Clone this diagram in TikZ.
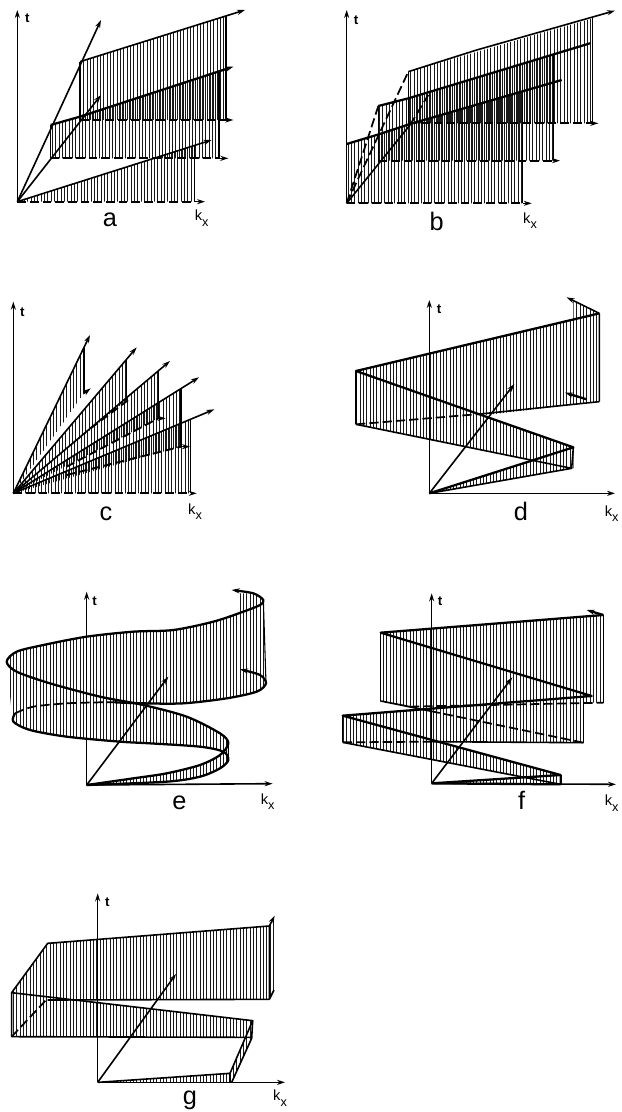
\documentclass[tikz,border=0pt]{standalone}
\usepackage{fontspec}
\setmainfont{Liberation Sans}
\usetikzlibrary{arrows.meta}
\tikzset{
  thinline/.style={line width=0.8pt,line join=round},
  bandline/.style={line width=1.2pt,line join=round},
  heavyline/.style={line width=1.7pt,line join=round},
  dashline/.style={line width=1.3pt,dash pattern=on 7pt off 3pt},
  combline/.style={line width=1.4pt,dash pattern=on 6.5pt off 3pt},
  arr/.style={-{Stealth[length=6pt,width=3.8pt]}},
  hatchline/.style={line width=0.72pt,black!90},
  tlab/.style={font=\fontsize{10}{10}\selectfont\bfseries,inner sep=0pt},
  klab/.style={font=\fontsize{11}{11}\selectfont,inner sep=0pt},
  letter/.style={font=\fontsize{19}{19}\selectfont,inner sep=0pt},
  panel/.style={x=0.25pt,y=-0.25pt}
}
\newcount\bandno
\def\bandstep{1}
\newcommand{\hatchband}[1]{%
  \global\advance\bandno by \bandstep\relax
  \pgfmathsetmacro{\hoff}{mod(\the\bandno*3.7,10)}%
  \begin{scope}
    \clip #1;
    \foreach \i in {0,...,95}{\draw[hatchline] ({\i*10+\hoff},0) -- ({\i*10+\hoff},820);}
  \end{scope}}
\newcommand{\klabel}{k\raisebox{-4pt}{\fontsize{9.5}{9.5}\selectfont x}}
\begin{document}
\begin{tikzpicture}[x=0.75pt,y=-0.75pt]
\useasboundingbox (0,0) rectangle (621,1112);

% ---------- a
\begin{scope}[panel]
\coordinate (aO) at (52,605);
\hatchband{(52,605) -- (583,436) -- (583,605) -- cycle}
\hatchband{(152,375) -- (657,214) -- (657,475) -- (152,475) -- cycle}
\hatchband{(240,185) -- (678,48) -- (678,360) -- (240,360) -- cycle}
\coordinate (a1) at (303,60); \coordinate (a2) at (303,285); \coordinate (a3) at (635,420);
\draw[thinline,arr] (aO) -- (52,30);
\draw[combline] (aO) -- (583,605);
\draw[thinline,arr] (583,605) -- (615,605);
\draw[bandline,arr] (aO) -- (a1);
\draw[bandline,arr] (aO) -- (a2);
\draw[bandline,arr] (aO) -- (a3);
\draw[bandline,arr] (240,185) -- (735,30);
\draw[heavyline,arr] (152,375) -- (240,350) -- (700,200);
\draw[combline] (240,360) -- (678,360);
\draw[thinline,arr] (678,360) -- (700,360);
\draw[combline] (152,475) -- (657,475);
\draw[thinline,arr] (657,475) -- (685,475);
\draw[bandline] (240,185) -- (240,360) (152,375) -- (152,475);
\draw[thinline] (583,436) -- (583,605) (657,214) -- (657,475) (678,48) -- (678,360);
\node[tlab] (at) at (82,55) {t};
\node[klab] (ak) at (605,655) {\klabel};
\node[letter] (al) at (330,658) {a};
\end{scope}

% ---------- b
\begin{scope}[panel,xshift=232.5pt]
\coordinate (bO) at (110,610);
\hatchband{(110,432) -- (300,372) -- (638,275) -- (638,610) -- (110,610) -- cycle}
\hatchband{(205,318) -- (295,295) -- (730,163) -- (730,482) -- (205,482) -- cycle}
\hatchband{(295,215) -- (848,55) -- (848,370) -- (295,370) -- cycle}
\draw[thinline,arr] (bO) -- (110,30);
\draw[combline] (bO) -- (638,610);
\draw[thinline,arr] (638,610) -- (665,610);
\draw[dashline] (bO) -- (205,318);
\draw[dashline] (bO) -- (295,215);
\draw[bandline] (bO) -- (300,375);
\draw[dashline] (300,375) -- (355,285);
\draw[bandline,arr] (295,215) -- (500,150) -- (915,32);
\draw[heavyline] (205,318) -- (295,295) -- (840,130);
\draw[heavyline] (110,432) -- (200,405) -- (300,372) -- (755,240);
\draw[combline] (295,370) -- (848,370);
\draw[thinline,arr] (848,370) -- (865,370);
\draw[combline] (205,482) -- (730,482);
\draw[thinline,arr] (730,482) -- (750,482);
\draw[bandline] (205,318) -- (205,482) (295,215) -- (295,370);
\draw[thinline] (638,275) -- (638,610) (730,163) -- (730,482) (848,55) -- (848,370);
\node[tlab] (bt) at (138,62) {t};
\node[klab] (bk) at (660,662) {\klabel};
\node[letter] (bl) at (380,665) {b};
\end{scope}

% ---------- c
\begin{scope}[panel,yshift=-217.5pt]
\coordinate (cO) at (40,610);
\hatchband{(40,610) -- (572,388) -- (572,610) -- cycle}
\hatchband{(40,610) -- (543,296) -- (543,470) -- cycle}
\hatchband{(40,610) -- (475,243) -- (475,385) -- cycle}
\hatchband{(40,610) -- (380,207) -- (380,330) -- cycle}
\hatchband{(40,610) -- (252,172) -- (252,310) -- cycle}
\draw[thinline,arr] (cO) -- (40,35);
\draw[combline] (cO) -- (572,610);
\draw[thinline,arr] (572,610) -- (590,610);
\draw[bandline,arr] (cO) -- (270,135);
\draw[bandline,arr] (cO) -- (410,172);
\draw[bandline,arr] (cO) -- (510,213);
\draw[bandline,arr] (cO) -- (597,262);
\draw[bandline,arr] (cO) -- (643,358);
\draw[bandline,arr] (252,310) -- (272,295);
\draw[combline] (272,415) -- (385,330);
\draw[combline] (200,530) -- (475,385);
\draw[bandline,arr] (475,385) -- (497,385);
\draw[combline] (200,555) -- (543,470);
\draw[bandline,arr] (543,470) -- (570,470);
\draw[thinline] (252,172) -- (252,310) (380,207) -- (380,330) (475,243) -- (475,385) (543,296) -- (543,470) (572,388) -- (572,610);
\node[tlab] (ct) at (67,67) {t};
\node[klab] (ck) at (585,665) {\klabel};
\node[letter] (cl) at (318,672) {c};
\end{scope}

\def\bandstep{0}
% ---------- d
\begin{scope}[panel,xshift=240pt,yshift=-217.5pt]
\coordinate (dO) at (328,610);
\hatchband{(760,30) -- (838,70) -- (838,85) -- (760,95) -- cycle}
\hatchband{(108,243) -- (838,70) -- (838,335) -- (500,375) -- (108,403) -- cycle}
\hatchband{(108,243) -- (760,472) -- (760,535) -- (108,403) -- cycle}
\hatchband{(328,610) -- (760,472) -- (760,535) -- cycle}
\draw[thinline,arr] (dO) -- (328,30);
\draw[bandline,arr] (dO) -- (885,610);
\draw[bandline,arr] (dO) -- (583,282);
\draw[heavyline] (dO) -- (760,472) -- (108,243) -- (838,70);
\draw[bandline,arr] (838,70) -- (740,22);
\draw[bandline] (dO) -- (755,535) -- (108,403);
\draw[dashline] (108,403) -- (480,372);
\draw[bandline] (480,372) -- (838,335);
\draw[heavyline,arr] (800,328) -- (735,308);
\draw[bandline] (108,243) -- (108,403) (760,472) -- (755,535) (838,70) -- (838,335);
\node[tlab] (dt) at (357,58) {t};
\node[klab] (dk) at (875,672) {\klabel};
\node[letter] (dl) at (603,665) {d};
\end{scope}

% ---------- e
\begin{scope}[panel,yshift=-427.5pt]
\coordinate (eO) at (260,645);
\hatchband{(720,70) -- (760,70) -- (790,90) -- (798,340) -- (720,298) -- cycle}
\hatchband{plot[smooth] coordinates {(260,645) (400,625) (500,610) (600,585) (660,555) (685,520)} -- plot[smooth] coordinates {(685,570) (660,595) (600,620) (500,635) (260,645)} -- cycle}
\hatchband{plot[smooth] coordinates {(685,520) (660,490) (560,440) (430,405) (300,380) (150,340) (50,305) (20,275)} -- (38,455) -- plot[smooth] coordinates {(40,455) (90,480) (200,500) (360,515) (450,520) (600,530) (670,545) (685,570)} -- cycle}
\hatchband{plot[smooth] coordinates {(20,275) (50,245) (130,225) (260,200) (400,185) (520,180) (640,155) (730,125) (780,105) (790,90)} -- (798,340) -- plot[smooth] coordinates {(798,340) (770,365) (680,385) (550,400) (430,400) (300,397) (200,400) (100,410) (45,430)} -- cycle}
\draw[bandline,arr] (eO) -- (260,65);
\draw[bandline,arr] (eO) -- (818,641);
\draw[bandline,arr] (eO) -- (505,320);
\draw[heavyline,arr] plot[smooth] coordinates {(260,645) (400,625) (500,610) (600,585) (660,555) (685,520) (660,490) (560,440) (430,405) (300,380) (150,340) (50,305) (20,275) (50,245) (130,225) (260,200) (400,185) (520,180) (640,155) (730,125) (780,105) (790,90) (760,70) (695,60)};
\draw[heavyline] plot[smooth] coordinates {(260,645) (500,635) (600,620) (660,595) (685,570) (670,545) (600,530) (450,520) (360,515) (200,500) (90,480) (40,455) (45,430)};
\draw[dashline] plot[smooth] coordinates {(45,430) (100,410) (200,400) (300,397) (345,397)};
\draw[heavyline,arr] plot[smooth] coordinates {(345,397) (430,400) (550,400) (680,385) (770,365) (798,340) (780,315) (720,298)};
\draw[thinline] (685,520) -- (685,570) (790,90) -- (798,340);
\node[tlab] (et) at (284,93) {t};
\node[klab] (ek) at (803,695) {\klabel};
\node[letter] (el) at (538,697) {e};
\end{scope}

% ---------- f
\begin{scope}[panel,xshift=240pt,yshift=-427.5pt]
\coordinate (fO) at (335,640);
\hatchband{(335,640) -- (722,615) -- (722,643) -- cycle}
\hatchband{(722,615) -- (68,437) -- (68,517) -- (722,643) -- cycle}
\hatchband{(68,437) -- (795,378) -- (795,518) -- (68,517) -- cycle}
\hatchband{(795,378) -- (182,188) -- (182,393) -- (795,518) -- cycle}
\hatchband{(182,188) -- (850,135) -- (850,398) -- (182,393) -- cycle}
\draw[bandline,arr] (fO) -- (335,70);
\draw[bandline,arr] (fO) -- (888,643);
\draw[bandline,arr] (fO) -- (577,322);
\draw[heavyline] (fO) -- (722,615) -- (68,437) -- (815,378) -- (182,188) -- (850,135);
\draw[heavyline,arr] (850,135) -- (800,120);
\draw[heavyline] (fO) -- (722,643) (722,615) -- (722,643);
\draw[bandline] (722,643) -- (68,517);
\draw[dashline] (68,517) -- (330,515);
\draw[bandline] (330,515) -- (790,518);
\draw[dashline] (790,518) -- (340,425);
\draw[bandline] (340,425) -- (182,393) -- (270,410);
\draw[dashline] (270,410) -- (850,398);
\draw[bandline] (182,188) -- (182,393) (68,437) -- (68,517) (790,378) -- (790,518) (850,135) -- (850,398);
\node[tlab] (ft) at (360,95) {t};
\node[klab] (fk) at (875,700) {\klabel};
\node[letter] (fl) at (605,692) {f};
\end{scope}

% ---------- g
\begin{scope}[panel,yshift=-637.5pt]
\coordinate (gO) at (293,697);
\hatchband{(293,697) -- (690,670) -- (690,697) -- cycle}
\hatchband{(690,670) -- (758,512) -- (755,565) -- (695,697) -- cycle}
\hatchband{(758,512) -- (35,428) -- (35,560) -- (755,562) -- cycle}
\hatchband{(35,428) -- (143,280) -- (143,450) -- (35,560) -- cycle}
\hatchband{(143,280) -- (808,228) -- (808,448) -- (143,450) -- cycle}
\hatchband{(808,228) -- (822,200) -- (822,420) -- (808,448) -- cycle}
\draw[bandline,arr] (gO) -- (293,130);
\draw[bandline,arr] (gO) -- (855,697);
\draw[bandline,arr] (gO) -- (528,372);
\draw[bandline] (gO) -- (690,670) -- (758,512) -- (35,428) -- (143,280) -- (808,228);
\draw[bandline,arr] (808,228) -- (824,197);
\draw[bandline] (690,670) -- (690,697) (758,512) -- (755,565) -- (695,697);
\draw[bandline] (755,562) -- (35,560) -- (35,428);
\draw[dashline] (35,560) -- (143,445);
\draw[bandline] (143,450) -- (808,448) -- (808,228) (808,448) -- (822,420);
\node[tlab] (gt) at (322,158) {t};
\node[klab] (gk) at (840,745) {\klabel};
\node[letter] (gl) at (570,750) {g};
\end{scope}
\end{tikzpicture}
\end{document}
